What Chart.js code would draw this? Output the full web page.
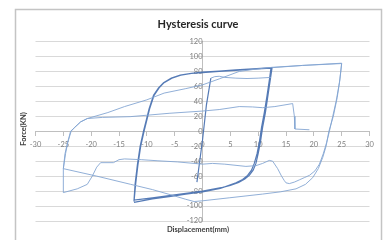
<!DOCTYPE html>
<html>
<head>
<meta charset="utf-8">
<script src="https://cdn.jsdelivr.net/npm/chart.js@4.4.1/dist/chart.umd.min.js"></script>
<style>
  html, body { margin: 0; padding: 0; background: #ffffff; }
  #wrap { width: 392px; height: 240px; position: relative; }
</style>
</head>
<body>
<div id="wrap"><canvas id="c" width="392" height="240"></canvas></div>
<script>
// ---- Data ----
const chartTitle = 'Hysteresis curve';
const xAxisTitle = 'Displacement(mm)';
const yAxisTitle = 'Force(KN)';

const xTickMin = -30, xTickMax = 30, xTickStep = 5;
const yTickMin = -120, yTickMax = 120, yTickStep = 20;

// initial elastic branch near the origin
const elasticDisp  = [-1, 0, 0.7, 1.5];
const elasticForce = [-68, -12, 35, 71];

// plateau after elastic branch
const plateauDisp  = [1.5, 2.2, 3, 4, 6, 8, 10, 12.3];
const plateauForce = [71, 73, 73.5, 72, 71, 70.5, 71, 72];

// +/-12 mm cycles (two cycles)
const loop12Disp = [
  -12.3, -12, -11.6, -11.1, -10.5, -10, -9.5, -8.7, -7.8, -6.9, -5.5, -3.9, -2, 0, 3, 6, 9, 12.5,
  12.2, 11.8, 11.3, 10.8, 10.4, 10, 9.6, 9.1, 8.4, 7.6, 6.5, 5, 3.6, 0, -3, -6, -9, -12.3,
  -12.1, -11.7, -11.2, -10.6, -10.1, -9.6, -8.8, -7.9, -7, -5.6, -4, -2, 0, 3, 6, 9, 12.3,
  12, 11.6, 11.1, 10.6, 10.2, 9.8, 9.3, 8.8, 8.1, 7.2, 6, 4.5, 3.2, 0, -3, -6, -9, -12.3
];
const loop12Force = [
  -94, -70, -45, -20, 0, 15, 30, 48, 58, 65, 71, 75, 77.5, 79, 80.5, 82, 83.5, 85,
  70, 50, 25, 5, -15, -30, -43, -52, -59, -64, -68.5, -72.5, -75, -80, -83, -86, -89, -92,
  -70, -45, -20, 0, 15, 30, 48, 58, 65, 71, 75, 77.5, 78.5, 80, 81.5, 83, 84.5,
  68, 48, 25, 5, -15, -30, -43, -52, -59, -64.5, -69, -73, -76.5, -81, -84, -87.5, -90.5, -95
];

// +/-25 mm cycles
const loop25Disp = [
  12.5, 18, 25, 24.7, 24.2, 23.5, 22.7, 22.2, 21.6, 20.8, 19.8, 18.5, 16.8, 14, 10.8, 4.8, 0, -1.5,
  -3, -5.7, -9, -12.9, -19, -25, -24.7, -24.3, -23.7, -23.1, -21.9, -20.7, -17, -14, -10, -6.9, -3, 0,
  3, 6.6, 9.5, 12.5, 18, 25, 24.6, 24, 23.4, 22.8, 22.3, 21.7, 21
];
const loop25Force = [
  85, 88, 91, 70, 45, 20, 0, -20, -35, -50, -62, -71, -77, -81, -84, -89, -93, -94,
  -91, -85, -78, -71, -60, -50, -30, -17, 0, 4, 12.5, 17, 25, 33, 42, 51, 57, 62,
  70, 80, 83, 85.5, 88, 90.5, 65, 40, 20, 0, -15, -30, -44
];

// final (degraded) cycle
const failDisp = [
  21, 20.2, 19.2, 18.3, 17.4, 16.5, 15.6, 15, 14.7, 14.2, 13.5, 12.6, 12, 10.8, 9.6, 7.8, 4, 1.8, 0,
  -4.5, -8, -11, -14, -15, -16, -18.3, -19, -19.8, -20.7, -22.5, -25, -25,
  -24.6, -24.2, -23.6, -23, -21.9, -20.7, -18, -13, -6, 0, 3, 6.6, 9, 10.8, 13, 16.2, 16.5, 16.6, 19.2
];
const failForce = [
  -44, -53, -59, -62, -65, -68, -70, -69, -66, -60, -50, -40, -39, -43, -46, -47, -44, -43, -44,
  -41, -39.5, -38, -37, -38, -42, -42, -48, -60, -71, -77, -82, -50,
  -30, -15, 0, 5, 12.5, 17, 18.5, 19.5, 24, 27, 29, 33, 32.5, 31.5, 33, 37, 20, 3, 2
];

function pts(xs, ys) { return xs.map((x, i) => ({ x: x, y: ys[i] })); }

const DARK = 'rgba(72,112,176,0.92)';
const LIGHT = 'rgba(130,164,210,0.88)';

function lineSet(label, xs, ys, color, width) {
  return {
    label: label, data: pts(xs, ys), showLine: true, borderColor: color,
    borderWidth: width, pointRadius: 0, tension: 0, fill: false
  };
}

const decorPlugin = {
  id: 'decor',
  beforeDraw(chart) {
    const ctx = chart.ctx;
    ctx.save();
    ctx.fillStyle = '#ffffff';
    ctx.fillRect(0, 0, chart.width, chart.height);
    ctx.strokeStyle = '#c4c4c4';
    ctx.lineWidth = 1.5;
    ctx.strokeRect(15.5, 9.5, 366, 250);
    ctx.restore();
  },
  afterDraw(chart) {
    const ctx = chart.ctx;
    ctx.save();
    ctx.fillStyle = '#262626';
    ctx.textAlign = 'center';
    ctx.textBaseline = 'middle';
    ctx.font = 'bold 11px Lato, "Open Sans", sans-serif';
    ctx.fillText(chartTitle, 198, 24.5);
    ctx.fillStyle = '#404040';
    ctx.font = 'bold 7.5px Lato, "Open Sans", sans-serif';
    ctx.fillText(xAxisTitle, 198, 230);
    ctx.translate(24, 129);
    ctx.rotate(-Math.PI / 2);
    ctx.fillText(yAxisTitle, 0, 0);
    ctx.restore();
  }
};

Chart.defaults.font.family = 'Lato, "Open Sans", sans-serif';

new Chart(document.getElementById('c'), {
  type: 'scatter',
  data: {
    datasets: [
      lineSet('loop25', loop25Disp, loop25Force, LIGHT, 1),
      lineSet('fail', failDisp, failForce, LIGHT, 1),
      lineSet('plateau', plateauDisp, plateauForce, LIGHT, 1),
      lineSet('loop12', loop12Disp, loop12Force, DARK, 1.2),
      lineSet('elastic', elasticDisp, elasticForce, DARK, 1.2)
    ]
  },
  options: {
    responsive: false,
    devicePixelRatio: 1,
    animation: false,
    layout: { padding: { left: 35.5, right: 22.5, top: 41.5, bottom: 19 } },
    plugins: { legend: { display: false }, title: { display: false }, tooltip: { enabled: false } },
    scales: {
      x: {
        type: 'linear', position: { y: 0 }, min: xTickMin, max: xTickMax,
        ticks: { stepSize: xTickStep, color: '#808080', font: { size: 7.5 }, padding: 5, maxRotation: 0, autoSkip: false },
        grid: { display: true, drawOnChartArea: false, drawTicks: true, tickLength: 4, color: '#bfbfbf' },
        border: { display: true, color: '#bfbfbf', width: 1 }
      },
      y: {
        type: 'linear', position: { x: 0 }, min: yTickMin, max: yTickMax,
        ticks: { stepSize: yTickStep, color: '#808080', font: { size: 7.5 }, padding: 3, autoSkip: false },
        grid: { display: true, drawOnChartArea: true, drawTicks: true, tickLength: 3, color: '#d9d9d9' },
        border: { display: true, color: '#bfbfbf', width: 1 }
      }
    }
  },
  plugins: [decorPlugin]
});
</script>
</body>
</html>
